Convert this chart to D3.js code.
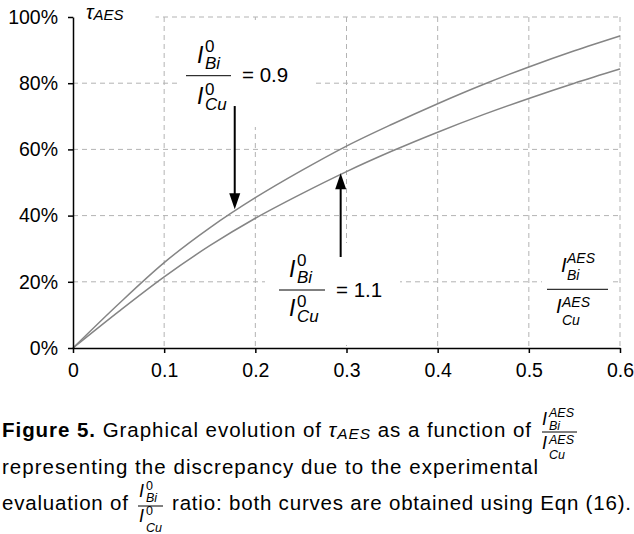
<!DOCTYPE html>
<html>
<head>
<meta charset="utf-8">
<script src="https://cdn.jsdelivr.net/npm/d3@7"></script>
<style>
  body { margin: 0; background: #fff; }
  svg { display: block; font-family: "Liberation Sans", Arial, Helvetica, sans-serif; }
</style>
</head>
<body>
<div id="chart"></div>
<script>
// ratio I_Bi^AES / I_Cu^AES
var ratioVals = [0, 0.05, 0.1, 0.15, 0.2, 0.25, 0.3, 0.35, 0.4, 0.45, 0.5, 0.55, 0.6];
// tau_AES (%) for I0_Bi/I0_Cu = 0.9 and 1.1
var tau09 = [0, 13.3, 25.8, 36.3, 45.4, 53.5, 61.0, 67.6, 73.8, 79.6, 84.9, 89.8, 94.3];
var tau11 = [0, 11.0, 21.5, 30.9, 39.2, 46.5, 53.3, 59.5, 65.2, 70.5, 75.4, 80.0, 84.3];
var xTicks = [0, 0.1, 0.2, 0.3, 0.4, 0.5, 0.6];
var yTicks = [0, 20, 40, 60, 80, 100];

var width = 634, height = 534;
var svg = d3.select("#chart").append("svg")
    .attr("width", width)
    .attr("height", height);

var x = d3.scaleLinear().domain([0, 0.6]).range([73, 620]);
var y = d3.scaleLinear().domain([0, 100]).range([348, 17]);

// grid
var grid = svg.append("g").attr("class", "grid")
    .attr("stroke", "#b3b3b3").attr("stroke-width", 1).attr("stroke-dasharray", "5,4");
grid.selectAll(".vg").data(xTicks.slice(1)).enter().append("line")
    .attr("x1", function(d){ return x(d); }).attr("x2", function(d){ return x(d); })
    .attr("y1", y(100)).attr("y2", y(0));
grid.selectAll(".hg").data(yTicks.slice(1)).enter().append("line")
    .attr("x1", x(0)).attr("x2", x(0.6))
    .attr("y1", function(d){ return y(d); }).attr("y2", function(d){ return y(d); });

// white boxes behind the labels
var boxes = [[73.5, 0, 82, 24], [178, 20, 134, 107], [265, 243, 135, 102], [542, 245, 68, 90]];
svg.selectAll(".bg").data(boxes).enter().append("rect")
    .attr("x", function(d){ return d[0]; }).attr("y", function(d){ return d[1]; })
    .attr("width", function(d){ return d[2]; }).attr("height", function(d){ return d[3]; })
    .attr("fill", "#fff");

// curves
var line = d3.line()
    .x(function(d, i){ return x(ratioVals[i]); })
    .y(function(d){ return y(d); })
    .curve(d3.curveMonotoneX);
[tau09, tau11].forEach(function(s){
    svg.append("path").datum(s)
        .attr("d", line)
        .attr("fill", "none")
        .attr("stroke", "#858585")
        .attr("stroke-width", 1.5);
});

// axes
var xAxis = svg.append("g").attr("transform", "translate(0," + y(0) + ")")
    .call(d3.axisBottom(x).tickValues(xTicks).tickSize(5).tickPadding(10).tickSizeOuter(0)
        .tickFormat(function(d){ return d === 0 ? "0" : d3.format(".1f")(d); }));
var yAxis = svg.append("g").attr("transform", "translate(" + x(0) + ",0)")
    .call(d3.axisLeft(y).tickValues(yTicks).tickSize(5).tickPadding(10).tickSizeOuter(0)
        .tickFormat(function(d){ return d + "%"; }));
[xAxis, yAxis].forEach(function(a){
    a.selectAll("path, line").attr("stroke", "#000").attr("stroke-width", 1.5);
    a.selectAll("text").attr("font-size", 19.5).attr("fill", "#000")
        .attr("font-family", "'Liberation Sans', Arial, Helvetica, sans-serif");
});

// y label
var tl = svg.append("text").attr("x", 86).attr("y", 18.5).attr("font-style", "italic").attr("font-size", 20);
tl.append("tspan").text("\u03c4");
tl.append("tspan").attr("dy", 1.5).attr("font-size", 15).text("AES");

// fraction helper
function frac(g, o) {
    g.append("line").attr("x1", o.x0).attr("x2", o.x1).attr("y1", o.y).attr("y2", o.y)
        .attr("stroke", "#000").attr("stroke-width", 1);
    [[o.numX, o.numI, o.sup, o.subN, o.nSupDy, o.nSubDy, o.numSX],
     [o.denX, o.denI, o.sup, o.subD, o.dSupDy, o.dSubDy, o.denSX]].forEach(function(p){
        g.append("text").attr("x", p[0]).attr("y", o.y + p[1])
            .attr("font-style", "italic").attr("font-size", o.iSize).text("I");
        g.append("text").attr("x", p[0] + p[6]).attr("y", o.y + p[1] + p[4])
            .attr("font-style", o.supItalic ? "italic" : "normal").attr("font-size", o.sSize).text(p[2]);
        g.append("text").attr("x", p[0] + p[6]).attr("y", o.y + p[1] + p[5])
            .attr("font-style", "italic").attr("font-size", o.sSize).text(p[3]);
    });
}

// annotations
var ann = svg.append("g");
var a1y = 75.7, a2y = 290;
frac(ann, {x0: 186, x1: 231, y: a1y, numX: 197, denX: 197, numI: -12.7, denI: 28,
    sup: "0", subN: "Bi", subD: "Cu", nSupDy: -11, nSubDy: 6, dSupDy: -9, dSubDy: 6,
    numSX: 8, denSX: 8, iSize: 23, sSize: 17});
ann.append("text").attr("x", 242).attr("y", a1y + 6.5).attr("font-size", 20.5).text("= 0.9");
frac(ann, {x0: 279, x1: 325, y: a2y, numX: 289, denX: 289, numI: -13, denI: 26,
    sup: "0", subN: "Bi", subD: "Cu", nSupDy: -11, nSubDy: 6, dSupDy: -9, dSubDy: 6,
    numSX: 8, denSX: 8, iSize: 23, sSize: 17});
ann.append("text").attr("x", 336).attr("y", a2y + 6.5).attr("font-size", 20.5).text("= 1.1");
frac(ann, {x0: 547, x1: 608, y: 289.3, numX: 561, denX: 556, numI: -17.6, denI: 24,
    sup: "AES", subN: "Bi", subD: "Cu", nSupDy: -9, nSubDy: 8, dSupDy: -6, dSubDy: 12,
    numSX: 6, denSX: 6, iSize: 20, sSize: 14, supItalic: true});

// arrows
var arrows = [
    {x: 0.1774, from: 73.1, to: 41.9},
    {x: 0.2936, from: 27.5, to: 52.8}
];
arrows.forEach(function(a){
    var px = x(a.x), y0 = y(a.from), y1 = y(a.to);
    var dir = y1 > y0 ? 1 : -1;
    svg.append("line").attr("x1", px).attr("x2", px)
        .attr("y1", y0).attr("y2", y1 - dir * 14)
        .attr("stroke", "#000").attr("stroke-width", 2);
    svg.append("path")
        .attr("d", "M" + (px - 5.5) + "," + (y1 - dir * 16) + "L" + (px + 5.5) + "," + (y1 - dir * 16) + "L" + px + "," + y1 + "Z")
        .attr("fill", "#000");
});

// caption (stretched to the width of the original typeface)
var cap = svg.append("g").attr("font-size", 20.5).attr("fill", "#000");
var l1 = cap.append("text").attr("x", 2).attr("y", 437)
    .attr("textLength", 529).attr("lengthAdjust", "spacing");
l1.append("tspan").attr("font-weight", "bold").text("Figure 5.");
l1.append("tspan").text(" Graphical evolution of ");
l1.append("tspan").attr("font-style", "italic").text("\u03c4");
l1.append("tspan").attr("font-style", "italic").attr("font-size", 15.5).attr("dy", 2).text("AES");
l1.append("tspan").attr("dy", -2).text(" as a function of");
var e1 = 2 + 529 + 11;
frac(cap, {x0: e1, x1: e1 + 35, y: 432, numX: e1, denX: e1, numI: -7, denI: 17,
    sup: "AES", subN: "Bi", subD: "Cu", nSupDy: -8, nSubDy: 5, dSupDy: -5, dSubDy: 10,
    numSX: 7, denSX: 7, iSize: 18, sSize: 12.5, supItalic: true});

cap.append("text").attr("x", 2).attr("y", 474)
    .attr("textLength", 536).attr("lengthAdjust", "spacing")
    .text("representing the discrepancy due to the experimental");

cap.append("text").attr("x", 2).attr("y", 510)
    .attr("textLength", 126).attr("lengthAdjust", "spacing")
    .text("evaluation of");
var e3 = 138;
frac(cap, {x0: e3, x1: e3 + 25, y: 506, numX: e3 + 1, denX: e3 + 1, numI: -9, denI: 16,
    sup: "0", subN: "Bi", subD: "Cu", nSupDy: -7, nSubDy: 5, dSupDy: -7, dSubDy: 10,
    numSX: 7, denSX: 7, iSize: 18, sSize: 12.5});
cap.append("text").attr("x", 172).attr("y", 510)
    .attr("textLength", 459).attr("lengthAdjust", "spacing")
    .text("ratio: both curves are obtained using Eqn (16).");
</script>
</body>
</html>
